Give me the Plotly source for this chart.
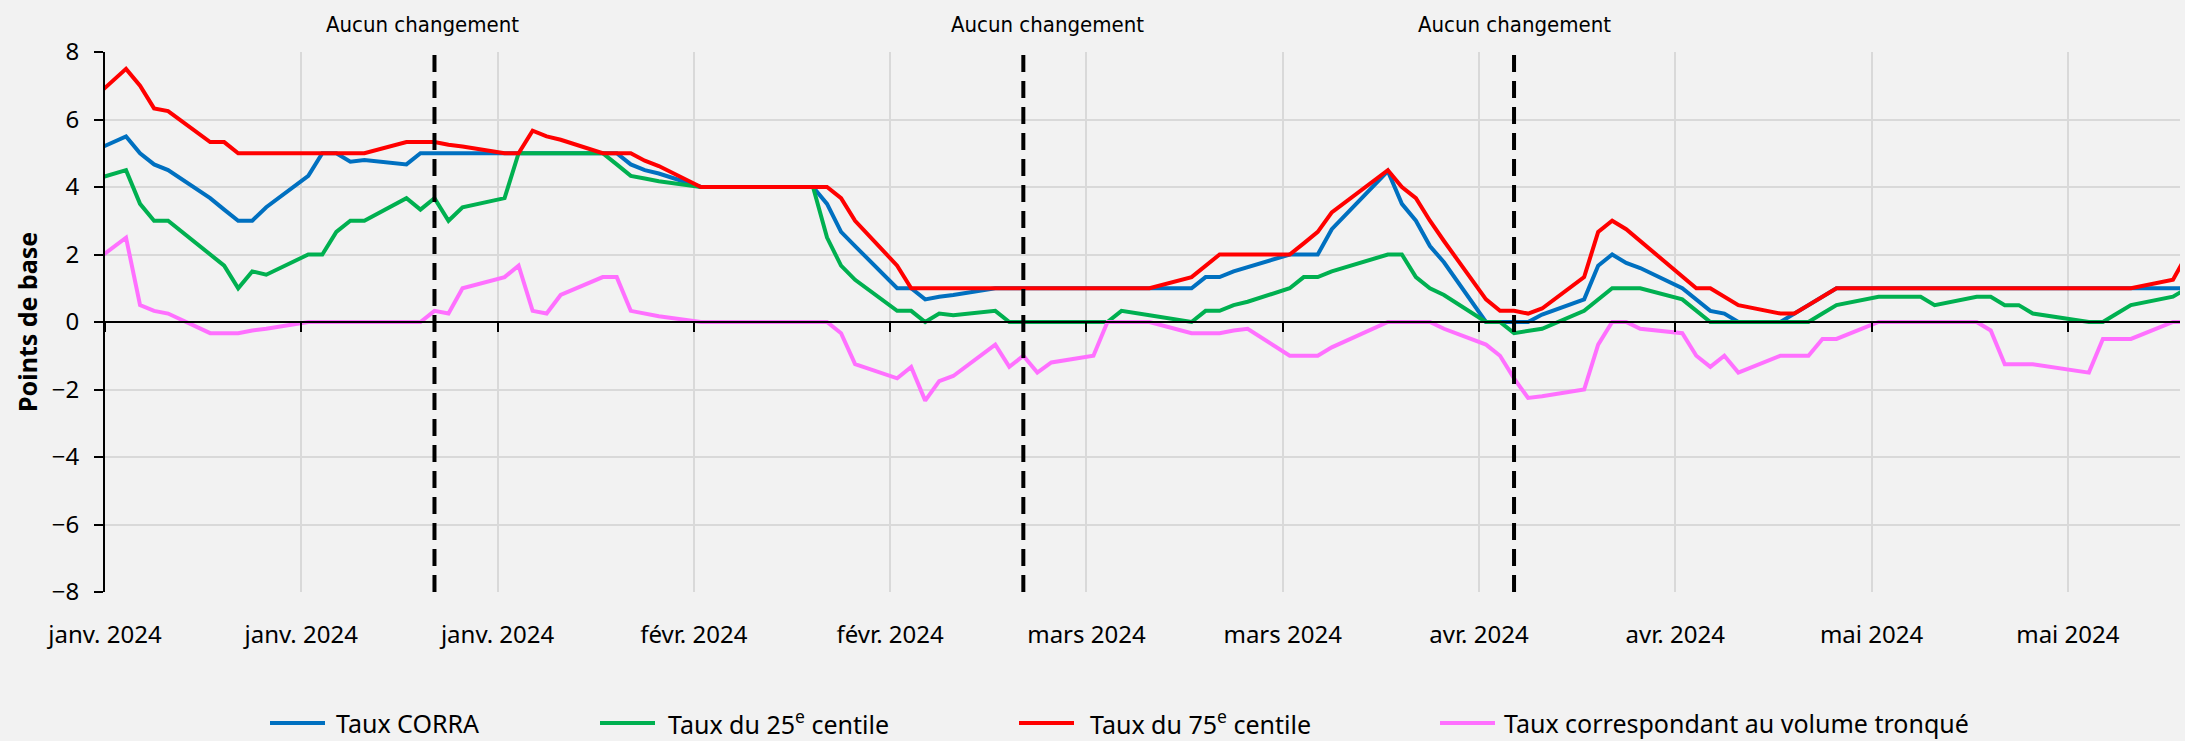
import plotly.graph_objects as go
import pandas as pd

# ---------------- data ----------------
dates = ['2023-12-29',
         '2024-01-02', '2024-01-03', '2024-01-04', '2024-01-05', '2024-01-08', '2024-01-09', '2024-01-10',
         '2024-01-11', '2024-01-12', '2024-01-15', '2024-01-16', '2024-01-17', '2024-01-18', '2024-01-19',
         '2024-01-22', '2024-01-23', '2024-01-24', '2024-01-25', '2024-01-26', '2024-01-29', '2024-01-30',
         '2024-01-31',
         '2024-02-01', '2024-02-02', '2024-02-05', '2024-02-06', '2024-02-07', '2024-02-08', '2024-02-09',
         '2024-02-12', '2024-02-13', '2024-02-14', '2024-02-15', '2024-02-16', '2024-02-20', '2024-02-21',
         '2024-02-22', '2024-02-23', '2024-02-26', '2024-02-27', '2024-02-28', '2024-02-29',
         '2024-03-01', '2024-03-04', '2024-03-05', '2024-03-06', '2024-03-07', '2024-03-08', '2024-03-11',
         '2024-03-12', '2024-03-13', '2024-03-14', '2024-03-15', '2024-03-18', '2024-03-19', '2024-03-20',
         '2024-03-21', '2024-03-22', '2024-03-25', '2024-03-26', '2024-03-27', '2024-03-28',
         '2024-04-01', '2024-04-02', '2024-04-03', '2024-04-04', '2024-04-05', '2024-04-08', '2024-04-09',
         '2024-04-10', '2024-04-11', '2024-04-12', '2024-04-15', '2024-04-16', '2024-04-17', '2024-04-18',
         '2024-04-19', '2024-04-22', '2024-04-23', '2024-04-24', '2024-04-25', '2024-04-26', '2024-04-29',
         '2024-04-30',
         '2024-05-01', '2024-05-02', '2024-05-03', '2024-05-06', '2024-05-07', '2024-05-08', '2024-05-09',
         '2024-05-10', '2024-05-13', '2024-05-14', '2024-05-15', '2024-05-16', '2024-05-17', '2024-05-21',
         '2024-05-22', '2024-05-23', '2024-05-24', '2024-05-27', '2024-05-28']

corra = [4.75,
         5.5, 5.0, 4.67, 4.5, 3.67, 3.33, 3.0, 3.0, 3.4, 4.33, 5.0, 5.0, 4.75, 4.8, 4.67, 5.0, 5.0, 5.0, 5.0, 5.0, 5.0, 5.0,
         5.0, 5.0, 5.0, 5.0, 4.67, 4.5, 4.4, 4.0, 4.0, 4.0, 4.0, 4.0, 4.0, 3.5, 2.67, 2.25, 1.0, 1.0, 0.67, 0.75,
         0.8, 1.0, 1.0, 1.0, 1.0, 1.0, 1.0, 1.0, 1.0, 1.0, 1.0, 1.0, 1.33, 1.33, 1.5, 1.63, 2.0, 2.0, 2.0, 2.75,
         4.47, 3.5, 3.0, 2.25, 1.77, 0.0, 0.0, 0.0, 0.0, 0.22, 0.67, 1.67, 2.0, 1.75, 1.6, 1.0, 0.67, 0.33, 0.25, 0.0, 0.0, 0.25,
         0.5, 0.75, 1.0, 1.0, 1.0, 1.0, 1.0, 1.0, 1.0, 1.0, 1.0, 1.0, 1.0, 1.0, 1.0, 1.0, 1.0, 1.0, 1.0]

p25 = [4.0,
       4.5, 3.5, 3.0, 3.0, 2.0, 1.67, 1.0, 1.5, 1.4, 2.0, 2.0, 2.67, 3.0, 3.0, 3.67, 3.33, 3.67, 3.0, 3.4, 3.67, 5.0, 5.0,
       5.0, 5.0, 5.0, 4.67, 4.33, 4.25, 4.17, 4.0, 4.0, 4.0, 4.0, 4.0, 4.0, 2.5, 1.67, 1.25, 0.33, 0.33, 0.0, 0.25,
       0.2, 0.33, 0.0, 0.0, 0.0, 0.0, 0.0, 0.0, 0.33, 0.25, 0.2, 0.0, 0.33, 0.33, 0.5, 0.6, 1.0, 1.33, 1.33, 1.5,
       2.0, 2.0, 1.33, 1.0, 0.8, 0.0, 0.0, -0.33, -0.25, -0.2, 0.33, 0.67, 1.0, 1.0, 1.0, 0.67, 0.33, 0.0, 0.0, 0.0, 0.0, 0.0,
       0.0, 0.25, 0.5, 0.75, 0.75, 0.75, 0.75, 0.5, 0.75, 0.75, 0.5, 0.5, 0.25, 0.0, 0.0, 0.25, 0.5, 0.75, 1.0]

p75 = [6.0,
       7.5, 7.0, 6.33, 6.25, 5.33, 5.33, 5.0, 5.0, 5.0, 5.0, 5.0, 5.0, 5.0, 5.0, 5.33, 5.33, 5.33, 5.25, 5.2, 5.0, 5.0, 5.67,
       5.5, 5.4, 5.0, 5.0, 5.0, 4.78, 4.62, 4.0, 4.0, 4.0, 4.0, 4.0, 4.0, 4.0, 3.67, 3.0, 1.67, 1.0, 1.0, 1.0,
       1.0, 1.0, 1.0, 1.0, 1.0, 1.0, 1.0, 1.0, 1.0, 1.0, 1.0, 1.33, 1.67, 2.0, 2.0, 2.0, 2.0, 2.33, 2.67, 3.25,
       4.5, 4.0, 3.67, 3.0, 2.4, 0.67, 0.33, 0.33, 0.25, 0.4, 1.33, 2.67, 3.0, 2.75, 2.4, 1.33, 1.0, 1.0, 0.75, 0.5, 0.25, 0.25,
       0.5, 0.75, 1.0, 1.0, 1.0, 1.0, 1.0, 1.0, 1.0, 1.0, 1.0, 1.0, 1.0, 1.0, 1.0, 1.0, 1.0, 1.25, 2.0]

tronque = [1.25,
           2.5, 0.5, 0.33, 0.25, -0.33, -0.33, -0.33, -0.25, -0.2, 0.0, 0.0, 0.0, 0.0, 0.0, 0.0, 0.0, 0.33, 0.25, 1.0, 1.33, 1.67, 0.33,
           0.25, 0.8, 1.33, 1.33, 0.33, 0.25, 0.17, 0.0, 0.0, 0.0, 0.0, 0.0, 0.0, 0.0, -0.33, -1.25, -1.67, -1.33, -2.33, -1.75,
           -1.6, -0.67, -1.33, -1.0, -1.5, -1.2, -1.0, 0.0, 0.0, 0.0, 0.0, -0.33, -0.33, -0.33, -0.25, -0.2, -1.0, -1.0, -1.0, -0.75,
           0.0, 0.0, 0.0, 0.0, -0.2, -0.67, -1.0, -1.67, -2.25, -2.2, -2.0, -0.67, 0.0, 0.0, -0.2, -0.33, -1.0, -1.33, -1.0, -1.5, -1.0, -1.0,
           -1.0, -0.5, -0.5, 0.0, 0.0, 0.0, 0.0, 0.0, 0.0, -0.25, -1.25, -1.25, -1.25, -1.5, -0.5, -0.5, -0.5, 0.0, 0.0]

series_names = ['Taux CORRA', 'Taux du 25<sup>e</sup> centile',
                'Taux du 75<sup>e</sup> centile', 'Taux correspondant au volume tronqué']

announce_dates = ['2024-01-24', '2024-03-06', '2024-04-10']
announce_text = 'Aucun changement'

tick_dates = ['2024-01-01', '2024-01-15', '2024-01-29', '2024-02-12', '2024-02-26', '2024-03-11',
              '2024-03-25', '2024-04-08', '2024-04-22', '2024-05-06', '2024-05-20']
tick_labels = ['janv. 2024', 'janv. 2024', 'janv. 2024', 'févr. 2024', 'févr. 2024', 'mars 2024',
               'mars 2024', 'avr. 2024', 'avr. 2024', 'mai 2024', 'mai 2024']

y_title = 'Points de base'

# ---------------- styling ----------------
colors = ['#0070C0', '#00B050', '#FF0000', '#FF70FF']
BG = '#F2F2F2'
GRID = '#D9D9D9'
TXT = 'Noto Sans, Open Sans, sans-serif'
NARROW = 'Liberation Sans Narrow, Arial Narrow, DejaVu Sans Condensed, sans-serif'

W, H = 2185, 741
ML, MR, MT, MB = 105, 5, 52, 149
PW, PH = W - ML - MR, H - MT - MB


def px_x(px):
    return (px - ML) / PW


def px_y(py):
    return (H - MB - py) / PH


x = pd.to_datetime(dates) + pd.Timedelta(hours=12)

fig = go.Figure()
for vals, name, col in zip([corra, p25, p75, tronque], series_names, colors):
    fig.add_trace(go.Scatter(x=x, y=vals, mode='lines', name=name,
                             line=dict(color=col, width=4), showlegend=False))

# helper trace so the zero-crossing axis (ticks at y=0) exists
fig.add_trace(go.Scatter(x=[x[1]], y=[0], xaxis='x2', yaxis='y', mode='markers',
                         marker=dict(opacity=0), showlegend=False, hoverinfo='skip'))

shapes = []
annotations = []
label_offsets_h = [-20, 41, 0]
for d, off in zip(announce_dates, label_offsets_h):
    xd = pd.Timestamp(d) + pd.Timedelta(hours=12)
    shapes.append(dict(type='line', xref='x', yref='y', x0=xd, x1=xd, y0=-8, y1=8,
                       line=dict(color='black', width=4, dash='17px,9px')))
    annotations.append(dict(x=xd + pd.Timedelta(hours=off), y=px_y(25), xref='x', yref='paper',
                            text=announce_text, showarrow=False, xanchor='center', yanchor='middle',
                            font=dict(family=NARROW, size=22, color='black')))

# y-axis title
annotations.append(dict(x=px_x(27), y=px_y(322), xref='paper', yref='paper', text='<b>' + y_title + '</b>',
                        textangle=-90, showarrow=False, xanchor='center', yanchor='middle',
                        font=dict(family=TXT, size=25, color='black')))

# manual legend
leg_line_x = [270, 600, 1019, 1440]
leg_text_x = [334, 666, 1088, 1502]
for lx, tx, name, col in zip(leg_line_x, leg_text_x, series_names, colors):
    shapes.append(dict(type='line', xref='paper', yref='paper', x0=px_x(lx), x1=px_x(lx + 55),
                       y0=px_y(723), y1=px_y(723), line=dict(color=col, width=4)))
    annotations.append(dict(x=px_x(tx), y=px_y(723), xref='paper', yref='paper', text=name,
                            showarrow=False, xanchor='left', yanchor='middle',
                            font=dict(family=TXT, size=25, color='black')))

fig.update_layout(
    width=W, height=H,
    margin=dict(l=ML, r=MR, t=MT, b=MB, autoexpand=False),
    paper_bgcolor=BG, plot_bgcolor=BG,
    showlegend=False,
    shapes=shapes, annotations=annotations,
    xaxis=dict(type='date', range=['2024-01-01', '2024-05-28'], automargin=False,
               tickmode='array', tickvals=tick_dates, ticktext=tick_labels,
               showgrid=True, gridcolor=GRID, gridwidth=1.5,
               showline=False, ticks='', zeroline=False,
               tickfont=dict(family=TXT, size=24, color='black'),
               ticklabelstandoff=26),
    xaxis2=dict(type='date', overlaying='x', matches='x', anchor='free', position=0.5,
                side='bottom', tickmode='array', tickvals=tick_dates, automargin=False,
                showticklabels=False, showgrid=False, zeroline=False,
                showline=True, linecolor='black', linewidth=2,
                ticks='outside', ticklen=9, tickwidth=2, tickcolor='black'),
    yaxis=dict(range=[-8, 8], dtick=2, tick0=0, automargin=False,
               showgrid=True, gridcolor=GRID, gridwidth=2,
               zeroline=False, showline=True, linecolor='black', linewidth=2,
               ticks='outside', ticklen=9, tickwidth=2, tickcolor='black',
               tickfont=dict(family=TXT, size=24, color='black'),
               ticklabelstandoff=10),
)

fig.write_html('out.html', config={'displayModeBar': False},
               post_script="document.body.style.margin='0';document.body.style.background='#F2F2F2';")
